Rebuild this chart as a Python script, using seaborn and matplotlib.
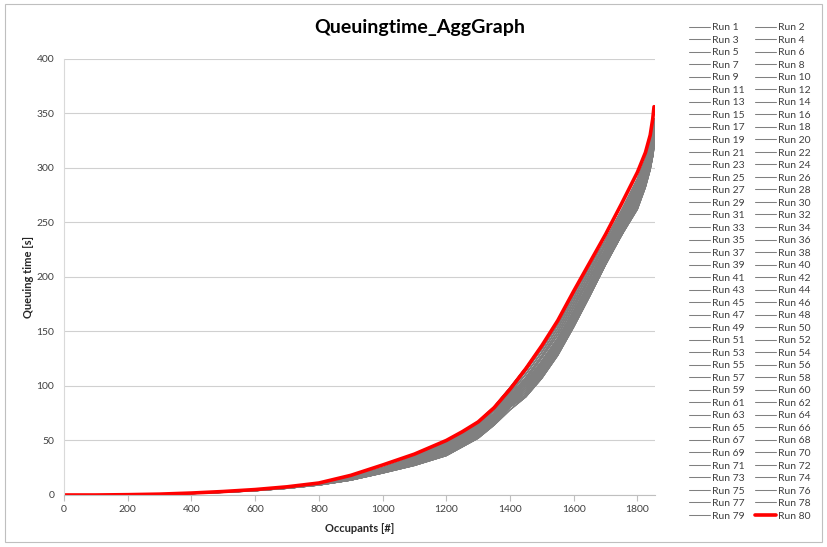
import matplotlib
matplotlib.use("Agg")
import matplotlib.pyplot as plt
import seaborn as sns
from matplotlib.patches import Rectangle

# ---------------- data ----------------
occupants = [0, 100, 200, 300, 400, 500, 600, 700, 800, 900,
             1000, 1100, 1200, 1250, 1300, 1350, 1400, 1450, 1500, 1550,
             1600, 1650, 1700, 1750, 1800, 1825, 1840, 1848, 1852]

run80_queuing = [0, 0, 0.3, 0.8, 1.8, 3.2, 5.0, 7.5, 11.0, 18.0,
                 27.5, 37.5, 50.0, 58.0, 67.0, 80.0, 97.0, 116.0, 137.0, 160.0,
                 187.0, 213.0, 239.0, 267.0, 296.0, 314.0, 330.0, 345.0, 356.0]

# distinct grey run shapes (queuing time [s] at each occupant value)
grey_a = [0, 0, 0.3, 0.8, 1.8, 3.1, 4.9, 7.3, 10.8, 16.5,
          25.0, 35.5, 48.5, 57.5, 67.5, 81, 98.5, 117, 137.5, 159,
          184, 209, 234, 261, 290, 308, 322, 334, 345]
grey_b = [0, 0, 0.3, 0.8, 1.7, 3.0, 4.8, 7.1, 10.5, 16.0,
          24.3, 34.5, 47.5, 56, 66, 79, 95, 114, 134, 156,
          181, 206, 231, 258, 287, 305, 319, 331, 342]
grey_c = [0, 0, 0.3, 0.7, 1.7, 2.9, 4.7, 7.0, 10.3, 15.6,
          23.8, 33.8, 46.5, 55, 64.5, 77, 93, 111, 131, 153,
          178, 203, 229, 256, 285, 303, 317, 329, 340]
grey_d = [0, 0, 0.3, 0.7, 1.6, 2.9, 4.6, 6.9, 10.1, 15.3,
          23.3, 33.0, 45.5, 54, 63, 75, 91, 108, 128, 150,
          175, 200, 226, 254, 283, 301, 315, 327, 338]
grey_e = [0, 0, 0.3, 0.7, 1.6, 2.8, 4.5, 6.8, 10.0, 15.0,
          22.8, 32.2, 44.5, 53, 62, 73.5, 89.5, 106, 126, 147,
          172, 198, 224, 252, 281, 299, 313, 325, 336]
grey_f = [0, 0, 0.2, 0.7, 1.5, 2.8, 4.4, 6.7, 9.8, 14.8,
          22.4, 31.5, 43.5, 52, 61, 72, 88, 104, 123, 144,
          169, 195, 222, 250, 279, 297, 311, 323, 334]
grey_g = [0, 0, 0.2, 0.6, 1.5, 2.7, 4.3, 6.6, 9.7, 14.6,
          22.0, 30.8, 42.5, 51, 59.5, 71, 86.5, 102, 121, 142,
          167, 193, 220, 248, 277, 295, 309, 321, 332]
grey_h = [0, 0, 0.2, 0.6, 1.4, 2.6, 4.2, 6.5, 9.6, 14.4,
          21.6, 30.2, 41.5, 50, 58.5, 70, 85, 100, 119, 140,
          165, 191, 218, 246, 275, 293, 307, 319, 330]
grey_i = [0, 0, 0.2, 0.6, 1.4, 2.6, 4.1, 6.4, 9.5, 14.2,
          21.3, 29.6, 40.5, 49, 57.5, 69, 84, 98, 117, 138,
          163, 189, 216, 244, 273, 291, 305, 317, 328]
grey_j = [0, 0, 0.2, 0.6, 1.3, 2.5, 4.0, 6.3, 9.4, 14.0,
          21.0, 29.0, 39.5, 48, 56.5, 68, 83, 96, 115, 136,
          161, 187, 215, 242, 271, 289, 304, 315, 326]
grey_k = [0, 0, 0.2, 0.5, 1.3, 2.5, 4.0, 6.2, 9.3, 13.9,
          20.7, 28.5, 38.5, 47, 55.5, 67, 82, 94, 113, 134,
          159, 185, 214, 240, 269, 287, 302, 313, 324]
grey_l = [0, 0, 0.2, 0.5, 1.3, 2.4, 3.9, 6.1, 9.2, 13.8,
          20.5, 28.0, 37.5, 46, 54.5, 66, 81, 92, 111, 132,
          157, 184, 213, 239, 267, 285, 300, 312, 322]
grey_m = [0, 0, 0.2, 0.5, 1.2, 2.4, 3.9, 6.1, 9.1, 13.6,
          20.3, 27.5, 37.0, 45, 53.5, 65, 80.5, 91, 109, 130,
          155.5, 183, 212, 238, 265, 284, 299, 311, 321]
grey_n = [0, 0, 0.2, 0.5, 1.2, 2.3, 3.8, 6.0, 9.0, 13.5,
          20.0, 27.0, 36.0, 44, 52, 64, 78, 90, 107, 128,
          154, 182, 211, 238, 262, 282, 298, 310, 318]

grey_shapes = {"a": grey_a, "b": grey_b, "c": grey_c, "d": grey_d, "e": grey_e,
               "f": grey_f, "g": grey_g, "h": grey_h, "i": grey_i, "j": grey_j,
               "k": grey_k, "l": grey_l, "m": grey_m, "n": grey_n}

# which shape each of runs 1..79 follows
run_shape = list("abcdefghijklmn" "bdfhjlnacegikm" "cfilbehkadgjmn"
                 "aegkmbdfhjlcin" "dhlaeimbfjncgk" "acegikm" "bdfh")

title = "Queuingtime_AggGraph"
x_label = "Occupants [#]"
y_label = "Queuing time [s]"
x_ticks = [0, 200, 400, 600, 800, 1000, 1200, 1400, 1600, 1800]
y_ticks = [0, 50, 100, 150, 200, 250, 300, 350, 400]

# ---------------- draw ----------------
sns.set_theme(style="white")
plt.rcParams["font.family"] = ["Lato", "DejaVu Sans"]

fig = plt.figure(figsize=(8.27, 5.47), dpi=100)
W, H = 827, 547
ax = fig.add_axes([64 / W, 1 - 495 / H, (655 - 64) / W, (495 - 58.7) / H])

for r, s in enumerate(run_shape, start=1):
    sns.lineplot(x=occupants, y=grey_shapes[s], color="#808080", linewidth=0.75,
                 label=f"Run {r}", ax=ax, estimator=None, sort=False)
sns.lineplot(x=occupants, y=run80_queuing, color="#ff0000", linewidth=2.6,
             label="Run 80", ax=ax, estimator=None, sort=False)

ax.set_xlim(0, 1855)
ax.set_ylim(0, 400)
ax.set_xticks(x_ticks)
ax.set_yticks(y_ticks)
ax.tick_params(axis="x", direction="out", length=4, width=0.8, color="#bfbfbf",
               labelsize=7.5, labelcolor="#404040", pad=3, bottom=True)
ax.tick_params(axis="y", length=0, labelsize=7.5, labelcolor="#404040", pad=7)
ax.yaxis.grid(True, color="#d0d0d0", linewidth=0.8)
ax.xaxis.grid(False)
ax.set_axisbelow(True)
for side in ["top", "right"]:
    ax.spines[side].set_visible(False)
ax.spines["left"].set_color("#d9d9d9")
ax.spines["bottom"].set_color("#bfbfbf")
ax.spines["left"].set_linewidth(0.8)
ax.spines["bottom"].set_linewidth(0.8)

ax.set_xlabel(x_label, fontsize=8, fontweight="bold", labelpad=7)
ax.set_ylabel(y_label, fontsize=8, fontweight="bold", labelpad=2)
fig.text(420 / W, 1 - 27 / H, title, ha="center", va="center",
         fontsize=14, fontweight="bold", color="black")

# legend: two columns, row-major order
handles, labels = ax.get_legend_handles_labels()
hmap = dict(zip(labels, handles))
ax.get_legend().remove()
order = [f"Run {i}" for i in range(1, 81, 2)] + [f"Run {i}" for i in range(2, 81, 2)]
leg = fig.legend([hmap[o] for o in order], order, loc="upper left",
                 bbox_to_anchor=(689 / W, 1 - 23 / H), ncol=2, frameon=False,
                 fontsize=7.5, handlelength=2.0, handletextpad=0.2,
                 columnspacing=1.0, labelspacing=0.31, borderpad=0,
                 borderaxespad=0)
for t in leg.get_texts():
    t.set_color("#404040")

fig.patches.append(Rectangle((5 / W, 1 - 542 / H), (822 - 5) / W, (542 - 4) / H,
                             transform=fig.transFigure, fill=False,
                             edgecolor="#bfbfbf", linewidth=0.8))

fig.savefig("out.png", dpi=100)
